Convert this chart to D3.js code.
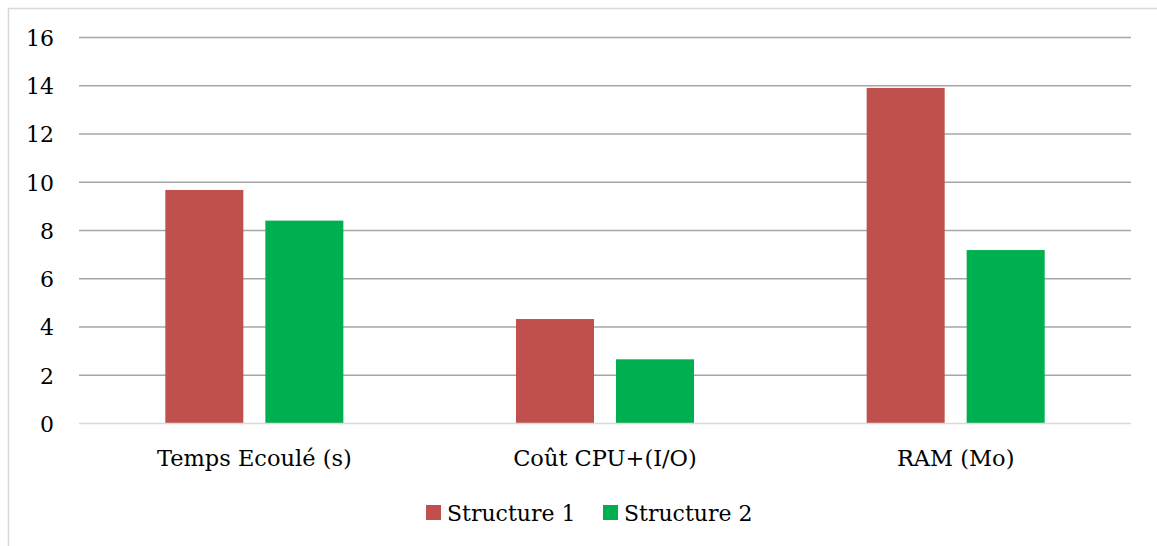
<!DOCTYPE html>
<html><head><meta charset="utf-8">
<script src="https://cdn.jsdelivr.net/npm/d3@7"></script>
<style>body{margin:0;background:#fff;} svg{display:block;font-family:"DejaVu Serif",serif;}</style>
</head><body>
<svg id="c" width="1157" height="546"></svg>
<script>
const categories = ["Temps Ecoulé (s)", "Coût CPU+(I/O)", "RAM (Mo)"];
const seriesNames = ["Structure 1", "Structure 2"];
const structure1 = [9.68, 4.33, 13.91];
const structure2 = [8.41, 2.66, 7.19];
const yTicks = [0, 2, 4, 6, 8, 10, 12, 14, 16];
const colors = ["#C0504D", "#00B050"];

(function(){
const svg = d3.select("#c");
svg.append("rect").attr("x", 8.5).attr("y", 8.5).attr("width", 1160).attr("height", 560)
  .attr("fill", "none").attr("stroke", "#d9d9d9").attr("stroke-width", 1.5);

const pl = 79, pr = 1131, pt = 37.5, pb = 423.5;
const x = d3.scaleBand().domain(categories).range([pl, pr]).paddingInner(0).paddingOuter(0);
const y = d3.scaleLinear().domain([0, 16]).range([pb, pt]);
const xs = d3.scaleBand().domain(seriesNames).range([0, x.bandwidth()]).paddingInner(0.22).paddingOuter(0.863);

svg.append("g").selectAll("line").data(yTicks.filter(d => d > 0)).join("line")
  .attr("x1", pl).attr("x2", pr)
  .attr("y1", d => y(d)).attr("y2", d => y(d))
  .attr("stroke", "#a6a6a6").attr("stroke-width", 1.5);

const yAxis = d3.axisLeft(y).tickValues(yTicks).tickSize(0).tickPadding(0);
const ya = svg.append("g").attr("transform", "translate(54,0)").call(yAxis);
ya.select(".domain").remove();
ya.selectAll("text").attr("font-size", 22).attr("fill", "#000").attr("font-family", "DejaVu Serif").attr("dy", "0.36em");

const data = categories.map((c, i) => ({c, vals: [structure1[i], structure2[i]]}));
const g = svg.append("g");
data.forEach(d => {
  d.vals.forEach((v, j) => {
    g.append("rect")
      .attr("x", x(d.c) + xs(seriesNames[j]))
      .attr("width", xs.bandwidth())
      .attr("y", y(v)).attr("height", y(0) - y(v))
      .attr("fill", colors[j]);
  });
});

svg.append("line").attr("x1", pl).attr("x2", pr).attr("y1", y(0)).attr("y2", y(0))
  .attr("stroke", "#d9d9d9").attr("stroke-width", 1.5);

const xAxis = d3.axisBottom(x).tickSize(0).tickPadding(0);
const xa = svg.append("g").attr("transform", "translate(0,466)").call(xAxis);
xa.select(".domain").remove();
xa.selectAll("text").attr("font-size", 22.5).attr("fill", "#000").attr("font-family", "DejaVu Serif").attr("dy", 0);

const legX = [426, 603];
const lg = svg.append("g");
seriesNames.forEach((n, j) => {
  lg.append("rect").attr("x", legX[j]).attr("y", 505).attr("width", 15).attr("height", 15).attr("fill", colors[j]);
  lg.append("text").attr("x", legX[j] + 21).attr("y", 521).attr("font-size", 22).attr("fill", "#000").text(n);
});
})();
</script>
</body></html>
